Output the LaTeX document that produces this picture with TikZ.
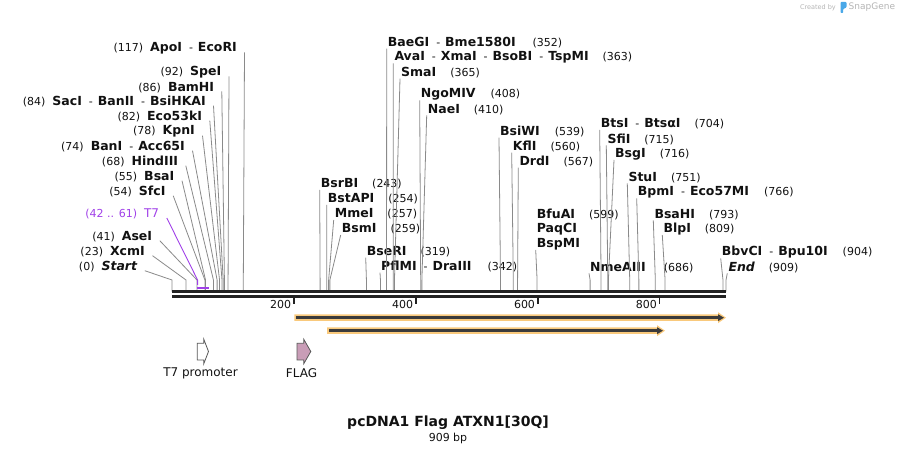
\documentclass[tikz,border=0pt]{standalone}
\usepackage{fontspec}
\setmainfont{DejaVu Sans}
\usetikzlibrary{arrows.meta}
\definecolor{cutgray}{HTML}{8A8A8A}
\definecolor{ink}{HTML}{111111}
\definecolor{seqblack}{HTML}{222222}
\definecolor{primer}{HTML}{A040E8}
\definecolor{halo}{HTML}{F9C97C}
\definecolor{orfdark}{HTML}{3B3B3B}
\definecolor{flagpink}{HTML}{C99DB7}
\definecolor{logoblue}{HTML}{4AA8E8}
\definecolor{credit}{HTML}{B4B4B4}
\newcommand{\enz}[1]{{\fontsize{12.5}{14}\selectfont\bfseries #1}}
\newcommand{\enzsep}{\hspace{7pt}-\hspace{5pt}}
\newcommand{\numgap}{\hspace{14pt}}
\newcommand{\orfarrow}[3]{\fill[halo](#1,#3-3.2)--(#2-8,#3-3.2)--(#2-8,#3-5.5)--(#2,#3)--(#2-8,#3+5.5)--(#2-8,#3+3.2)--(#1,#3+3.2)--cycle;
\draw[orfdark,line width=2.4pt,-{Triangle[length=6pt,width=6.5pt]}](#1+2,#3)--(#2-2,#3);}
\tikzset{cut/.style={draw=cutgray,line width=.8pt},lft/.style={anchor=east,inner sep=0pt,text=ink,font=\fontsize{11}{13}\selectfont},rgt/.style={anchor=west,inner sep=0pt,text=ink,font=\fontsize{11}{13}\selectfont},seqline/.style={draw=seqblack,line width=2.7pt},tickmark/.style={draw=seqblack,line width=1.6pt},feat/.style={draw=black!65,line width=.8pt,line join=miter},featlbl/.style={font=\fontsize{12}{14}\selectfont,text=ink,inner sep=0pt}}
\begin{document}
\begin{tikzpicture}[x=1pt,y=-1pt]
\useasboundingbox (0,0) rectangle (898,454);
% sequence and cut sites
\coordinate (seq) at (172,291.7);\coordinate (seqend) at (726,291.7);
\coordinate (seqlo) at (172,296.7);\coordinate (seqloend) at (726,296.7);
\foreach \b in {0,23,41,42,54,55,68,74,78,82,84,86,92,117,243,254,257,259,319,342,352,363,365,408,410,539,560,567,599,686,704,715,716,751,766,793,809,904,909}
  \coordinate (k\b) at ({172+0.6095*\b},280);
% labels left of their sites
\node[lft](apoi) at (237,48.3){(117)\hspace{7pt}\enz{ApoI}\enzsep\enz{EcoRI}};
\node[lft](spei) at (221.5,72.3){(92)\hspace{7pt}\enz{SpeI}};
\node[lft](bamhi) at (214.3,87.3){(86)\hspace{7pt}\enz{BamHI}};
\node[lft](saci) at (206,101.7){(84)\hspace{7pt}\enz{SacI}\enzsep\enz{BanII}\enzsep\enz{BsiHKAI}};
\node[lft](eco53ki) at (202.3,116.7){(82)\hspace{7pt}\enz{Eco53kI}};
\node[lft](kpni) at (195,131.7){(78)\hspace{7pt}\enz{KpnI}};
\node[lft](bani) at (185,146.7){(74)\hspace{7pt}\enz{BanI}\enzsep\enz{Acc65I}};
\node[lft](hindiii) at (178.3,161.7){(68)\hspace{7pt}\enz{HindIII}};
\node[lft](bsai) at (174.5,176.7){(55)\hspace{7pt}\enz{BsaI}};
\node[lft](sfci) at (165.7,191.7){(54)\hspace{7pt}\enz{SfcI}};
\node[lft,text=primer](t7) at (159.3,214){(42 .. 61)\hspace{7pt}{\fontsize{12}{14}\selectfont T7}};
\node[lft](asei) at (152.3,236.7){(41)\hspace{7pt}\enz{AseI}};
\node[lft](xcmi) at (145,251.7){(23)\hspace{7pt}\enz{XcmI}};
\node[lft](start) at (137.3,266.7){(0)\hspace{7pt}\enz{\itshape Start}};
% labels right of their sites
\node[rgt](baegi) at (387.7,42.7){\enz{BaeGI}\enzsep\enz{Bme1580I}\hspace{17pt}(352)};
\node[rgt](avai) at (394.3,57.5){\enz{AvaI}\enzsep\enz{XmaI}\enzsep\enz{BsoBI}\enzsep\enz{TspMI}\numgap(363)};
\node[rgt](smai) at (401,72.7){\enz{SmaI}\numgap(365)};
\node[rgt](ngomiv) at (420.7,94.3){\enz{NgoMIV}\hspace{15pt}(408)};
\node[rgt](naei) at (427.7,109.3){\enz{NaeI}\numgap(410)};
\node[rgt](bsiwi) at (500,131.7){\enz{BsiWI}\hspace{15pt}(539)};
\node[rgt](kfli) at (512.7,146.7){\enz{KflI}\numgap(560)};
\node[rgt](drdi) at (519.3,161.7){\enz{DrdI}\numgap(567)};
\node[rgt](bsrbi) at (320.7,184){\enz{BsrBI}\numgap(243)};
\node[rgt](bstapi) at (327.7,199){\enz{BstAPI}\numgap(254)};
\node[rgt](mmei) at (334.7,214){\enz{MmeI}\numgap(257)};
\node[rgt](bsmi) at (341.7,229){\enz{BsmI}\numgap(259)};
\node[rgt](bseri) at (366.7,251.7){\enz{BseRI}\numgap(319)};
\node[rgt](pflmi) at (381,266.7){\enz{PflMI}\enzsep\enz{DraIII}\hspace{16pt}(342)};
\node[rgt](bfuai) at (536.7,214){\enz{BfuAI}\numgap(599)};
\node[rgt](paqci) at (536.7,229){\enz{PaqCI}};
\node[rgt](bspmi) at (536.7,244){\enz{BspMI}};
\node[rgt](btsi) at (600.7,124){\enz{BtsI}\enzsep\enz{BtsαI}\numgap(704)};
\node[rgt](sfii) at (607.3,139.3){\enz{SfiI}\numgap(715)};
\node[rgt](bsgi) at (615,154){\enz{BsgI}\numgap(716)};
\node[rgt](stui) at (628.3,177.3){\enz{StuI}\numgap(751)};
\node[rgt](bpmi) at (637.7,192.3){\enz{BpmI}\enzsep\enz{Eco57MI}\hspace{15pt}(766)};
\node[rgt](bsahi) at (654.3,214.3){\enz{BsaHI}\numgap(793)};
\node[rgt](blpi) at (663.3,229){\enz{BlpI}\numgap(809)};
\node[rgt](nmeaiii) at (590,267.3){\enz{NmeAIII}\hspace{18pt}(686)};
\node[rgt](bbvci) at (721.7,252.3){\enz{BbvCI}\enzsep\enz{Bpu10I}\hspace{15pt}(904)};
\node[rgt](endsite) at (728.3,267.3){\enz{\itshape End}\numgap(909)};
% site lines
\foreach \n/\b in {apoi/117,spei/92,bamhi/86,saci/84,eco53ki/82,kpni/78,bani/74,hindiii/68,bsai/55,sfci/54,asei/41,xcmi/23,start/0}
  \draw[cut]([shift={(7.5,4)}]\n.east)--(k\b)--(k\b|-seq);
\foreach \n/\b in {baegi/352,avai/363,smai/365,ngomiv/408,naei/410,bsiwi/539,kfli/560,drdi/567,bsrbi/243,bstapi/254,mmei/257,bsmi/259,bseri/319,pflmi/342,bspmi/599,btsi/704,sfii/715,bsgi/716,stui/751,bpmi/766,bsahi/793,blpi/809,nmeaiii/686,bbvci/904,endsite/909}
  \draw[cut]([shift={(-1,6)}]\n.west)--(k\b)--(k\b|-seq);
\draw[primer,line width=.9pt]([shift={(7.5,4)}]t7.east)--(k42)--++(0,5);
\coordinate (t7a) at (196.7,287.8);\coordinate (t7b) at (209,287.8);
\draw[primer,line width=2pt](t7a)--(t7b);
\draw[seqline](seq)--(seqend);\draw[seqline](seqlo)--(seqloend);
\foreach \t in {200,400,600,800}{
  \draw[tickmark]({172+0.6095*\t},297.5)--++(0,6.5);
  \node[lft,font=\fontsize{11}{13}\selectfont](n\t) at ({169.5+0.6095*\t},304){\t};}
% ORFs
\orfarrow{294.4}{726}{317.7}
\orfarrow{327}{665}{330.7}
% features
\draw[feat,fill=white](197.3,343.3)--(203.8,343.3)--(203.8,339.3)--(208.5,351.5)--(203.8,363.7)--(203.8,360)--(197.3,360)--cycle;
\draw[feat,fill=flagpink](297,343.3)--(303.8,343.3)--(303.8,339.3)--(310.8,351.5)--(303.8,363.7)--(303.8,360)--(297,360)--cycle;
\node[featlbl](t7prom) at (200.5,373){T7 promoter};
\node[featlbl](flag) at (301.5,373){FLAG};
% title
\node[font=\fontsize{14}{16}\selectfont\bfseries,text=ink](title) at (448,423){pcDNA1 Flag ATXN1[30Q]};
\node[font=\fontsize{11}{13}\selectfont,text=ink](size) at (448,438){909 bp};
% credit
\node[anchor=east,inner sep=0pt,text=credit,font=\fontsize{6.5}{7}\selectfont](created) at (836,7.5){Created by};
\fill[logoblue,rounded corners=.8pt](840.5,2)--(846.5,2)--(846.5,7.5)--(843.2,9)--(843.2,13)--(840.5,13)--cycle;
\node[anchor=west,inner sep=0pt,text=credit,font=\fontsize{9}{10}\selectfont](snapgene) at (848.5,7){SnapGene};
\end{tikzpicture}
\end{document}
